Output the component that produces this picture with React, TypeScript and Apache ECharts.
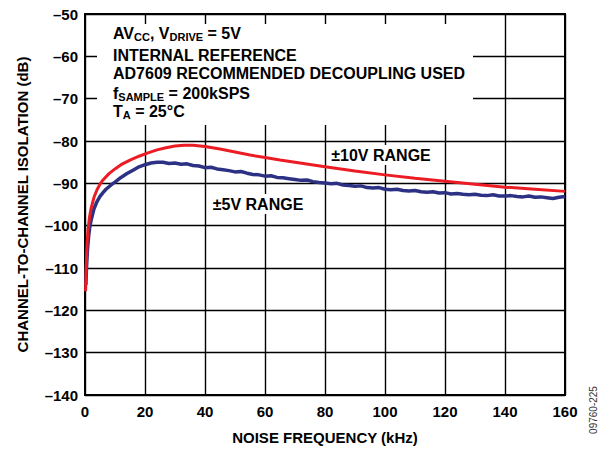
import React, { useEffect, useRef } from "react";
import * as echarts from "echarts";

// Tick values
const xTicks = [0, 20, 40, 60, 80, 100, 120, 140, 160];
const yMin = -140;
const yMax = -50;

// ±10V RANGE (red) — [kHz, dB]
const range10V: [number, number][] = [
  [0.2, -115.5], [0.4, -110], [0.7, -104], [1, -101], [1.5, -98], [2, -96],
  [3, -93.3], [4, -91.5], [5, -90.2], [6, -89.2], [8, -87.7], [10, -86.6],
  [12, -85.6], [15, -84.5], [18, -83.6], [21, -82.8], [24, -82.1], [27, -81.6],
  [30, -81.2], [33, -81.0], [36, -81.0], [40, -81.3], [45, -81.9], [50, -82.6],
  [55, -83.3], [60, -83.9], [65, -84.5], [70, -85.0], [80, -86.1], [90, -87.1],
  [100, -88.0], [110, -88.8], [120, -89.5], [130, -90.2], [140, -90.9],
  [150, -91.4], [160, -91.9],
];

// ±5V RANGE (blue) — [kHz, dB]
const range5V: [number, number][] = [
  [0.3, -114], [0.5, -110], [0.8, -106], [1.2, -102.5], [1.6, -100.3], [2, -98.8],
  [3, -96.0], [4, -94.3], [5, -93.1], [6, -92.2], [7, -91.4], [8, -90.8],
  [9, -90.2], [10, -89.7], [12, -88.6], [14, -87.7], [16, -86.9], [18, -86.1],
  [20, -85.6], [22, -85.2], [24, -85.0], [26, -85.0], [28, -85.3], [30, -85.2],
  [32, -85.5], [34, -85.4], [36, -85.8], [38, -85.9], [40, -86.3], [42, -86.2],
  [44, -86.6], [46, -86.8], [48, -87.0], [50, -87.3], [52, -87.2], [54, -87.6],
  [56, -87.9], [58, -88.0], [60, -88.3], [62, -88.2], [64, -88.6], [66, -88.7],
  [68, -88.9], [70, -89.1], [72, -89.3], [74, -89.2], [76, -89.6], [78, -89.8],
  [80, -89.9], [82, -90.1], [84, -90.0], [86, -90.4], [88, -90.5], [90, -90.7],
  [92, -90.6], [94, -91.0], [96, -91.1], [98, -91.0], [100, -91.4], [102, -91.5],
  [104, -91.4], [106, -91.7], [108, -91.8], [110, -91.7], [112, -92.0], [114, -92.1],
  [116, -92.0], [118, -92.3], [120, -92.2], [122, -92.5], [124, -92.4], [126, -92.6],
  [128, -92.7], [130, -92.6], [132, -92.8], [134, -92.9], [136, -92.7], [138, -93.0],
  [140, -93.0], [142, -92.9], [144, -93.1], [146, -93.2], [148, -93.0], [150, -93.3],
  [152, -93.2], [154, -93.4], [156, -93.6], [158, -93.3], [160, -93.1],
];

// Annotation lines: [text, isSubscript] pieces
const annotLines: [string, boolean][][] = [
  [["AV", false], ["CC", true], [", V", false], ["DRIVE", true], [" = 5V", false]],
  [["INTERNAL REFERENCE", false]],
  [["AD7609 RECOMMENDED DECOUPLING USED", false]],
  [["f", false], ["SAMPLE", true], [" = 200kSPS", false]],
  [["T", false], ["A", true], [" = 25°C", false]],
];
const annotCenters = [33.5, 55.5, 73.5, 93, 111];

const FONT = '"Liberation Sans", Arial, Helvetica, sans-serif';
const MAIN_SIZE = 16;
const SUB_SIZE = 11;
const SUB_DROP = 3.5;

function buildAnnot(): any[] {
  const ctx = document.createElement("canvas").getContext("2d")!;
  const out: any[] = [];
  annotLines.forEach((line, i) => {
    let x = 113;
    const yc = annotCenters[i];
    line.forEach(([t, sub]) => {
      const size = sub ? SUB_SIZE : MAIN_SIZE;
      ctx.font = `bold ${size}px ${FONT}`;
      const w = ctx.measureText(t).width;
      out.push({
        type: "text", x, y: sub ? yc + SUB_DROP : yc, z: 11,
        style: {
          text: t, fontSize: size, fontWeight: "bold", fontFamily: FONT, fill: "#000",
          align: "left", verticalAlign: "middle", textAlign: "left", textVerticalAlign: "middle",
        },
      });
      x += w;
    });
  });
  return out;
}

export default function App() {
  const ref = useRef<HTMLDivElement>(null);
  useEffect(() => {
    const chart = echarts.init(ref.current!, null, { renderer: "svg" });
    const dash = (v: number) => (v < 0 ? "\u2013" + Math.abs(v) : String(v));
    chart.setOption({
      animation: false,
      backgroundColor: "#fff",
      grid: {
        left: 85, right: 38, top: 14, bottom: 56,
        show: true, borderColor: "#000", borderWidth: 2, backgroundColor: "transparent",
      },
      xAxis: {
        type: "value", min: xTicks[0], max: xTicks[xTicks.length - 1], interval: 20,
        name: "NOISE FREQUENCY (kHz)", nameLocation: "middle", nameGap: 35,
        nameTextStyle: { fontSize: 15, fontWeight: "bold", fontFamily: FONT, color: "#000" },
        axisLine: { show: true, lineStyle: { color: "#000", width: 2 } },
        axisTick: { show: false },
        axisLabel: { fontSize: 15, fontWeight: "bold", fontFamily: FONT, color: "#000", margin: 9 },
        splitLine: { show: true, lineStyle: { color: "#000", width: 1.4 } },
      },
      yAxis: {
        type: "value", min: yMin, max: yMax, interval: 10,
        name: "CHANNEL-TO-CHANNEL ISOLATION (dB)", nameLocation: "middle", nameGap: 55, nameRotate: 90,
        nameTextStyle: { fontSize: 15, fontWeight: "bold", fontFamily: FONT, color: "#000" },
        axisLine: { show: true, lineStyle: { color: "#000", width: 2 } },
        axisTick: { show: false },
        axisLabel: { fontSize: 15, fontWeight: "bold", fontFamily: FONT, color: "#000", margin: 7, formatter: dash },
        splitLine: { show: true, lineStyle: { color: "#000", width: 1.4 } },
      },
      series: [
        {
          name: "±5V RANGE", type: "line", data: range5V, showSymbol: false, z: 3,
          lineStyle: { color: "#2d3184", width: 3.5 },
        },
        {
          name: "±10V RANGE", type: "line", data: range10V, showSymbol: false, z: 4,
          lineStyle: { color: "#ec1c24", width: 3 },
        },
      ],
      graphic: [
        { type: "rect", z: 10, shape: { x: 97, y: 24, width: 376, height: 101 }, style: { fill: "#fff" } },
        ...buildAnnot(),
        {
          type: "text", x: 381, y: 155, z: 11,
          style: {
            text: "±10V RANGE", fontSize: 16, fontWeight: "bold", fontFamily: FONT, fill: "#000",
            align: "center", verticalAlign: "middle", textAlign: "center", textVerticalAlign: "middle",
            backgroundColor: "#fff", padding: [2, 3],
          },
        },
        {
          type: "text", x: 258, y: 204, z: 11,
          style: {
            text: "±5V RANGE", fontSize: 16, fontWeight: "bold", fontFamily: FONT, fill: "#000",
            align: "center", verticalAlign: "middle", textAlign: "center", textVerticalAlign: "middle",
            backgroundColor: "#fff", padding: [2, 3],
          },
        },
        {
          type: "text", x: 593, y: 410, z: 11, rotation: Math.PI / 2,
          style: {
            text: "09760-225", fontSize: 10, fontFamily: FONT, fill: "#333",
            align: "center", verticalAlign: "middle", textAlign: "center", textVerticalAlign: "middle",
          },
        },
      ],
    });
    return () => chart.dispose();
  }, []);
  return <div ref={ref} style={{ position: "fixed", left: 0, top: 0, width: 603, height: 451 }} />;
}
